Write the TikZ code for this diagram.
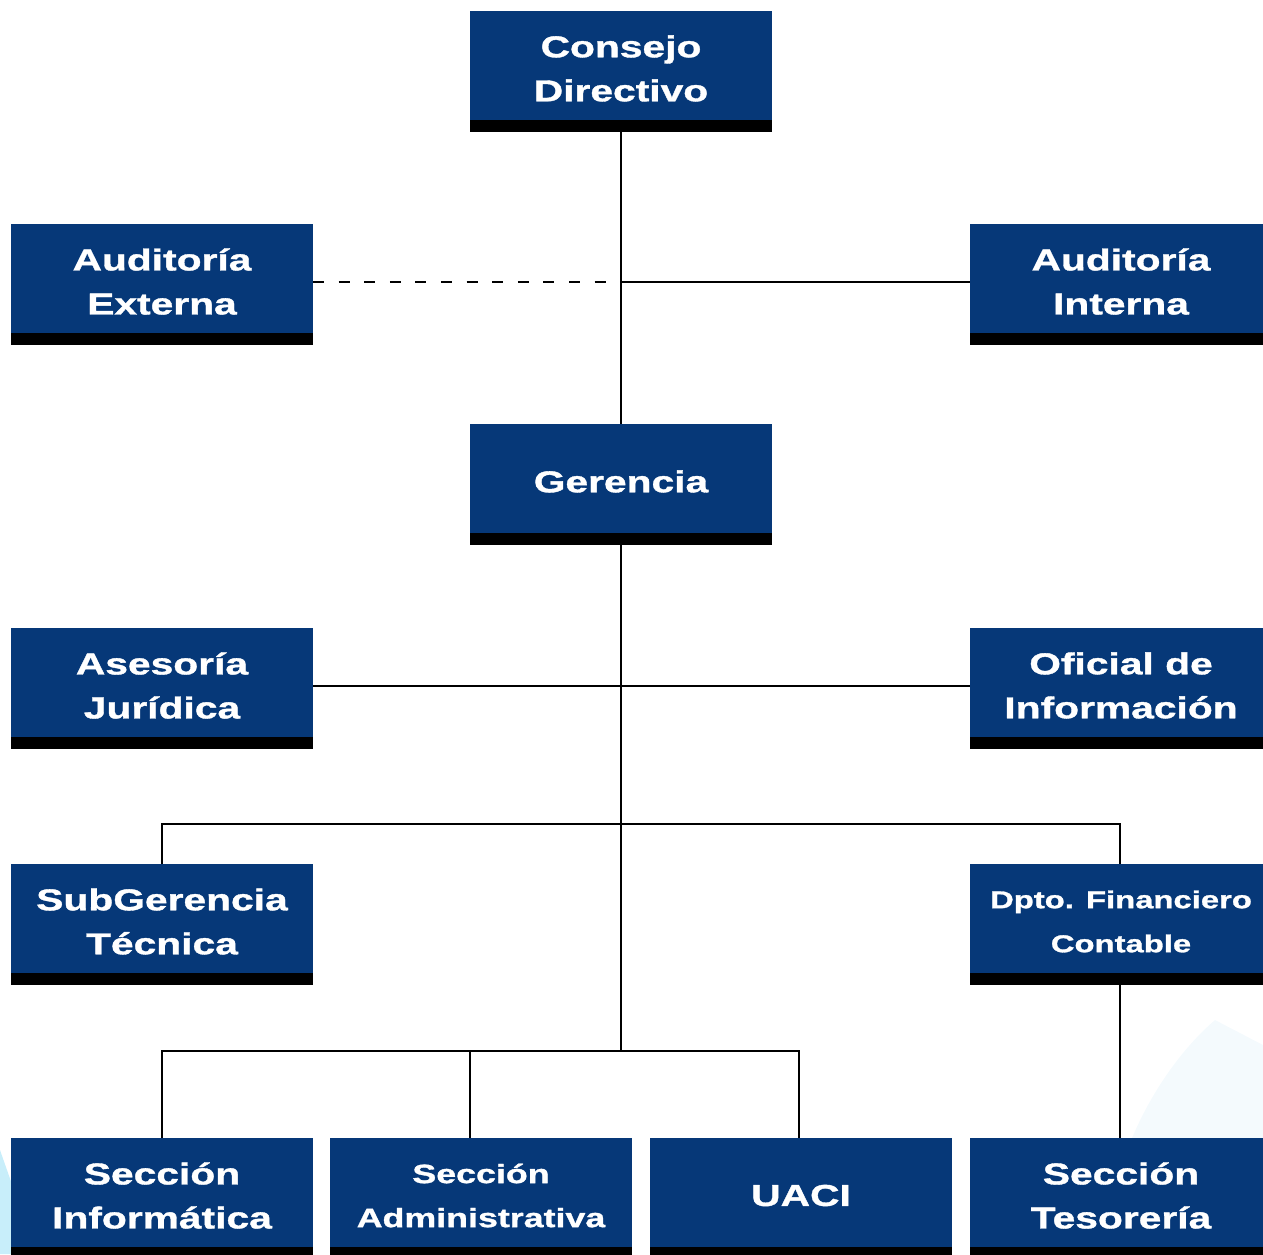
\documentclass[tikz,border=0pt]{standalone}
\usepackage{fontspec}
\newfontfamily\boxfont{Liberation Sans}[FakeStretch=1.35,FakeBold=1.2]
\definecolor{orgblue}{RGB}{6,56,120}
\definecolor{swoosh}{RGB}{200,238,250}
\definecolor{swooshb}{RGB}{244,250,253}
\begin{document}
\begin{tikzpicture}[x=1pt,y=-1pt,
  orgbox/.style={fill=orgblue, inner sep=0pt, outer sep=0pt, minimum width=302pt, minimum height=109pt},
  boxtext/.style={text=white, align=center, inner sep=0pt, yshift=-3pt,
    font=\boxfont\bfseries\fontsize{30.2}{44}\selectfont},
  smallt/.style={font=\boxfont\bfseries\fontsize{26.5}{44}\selectfont},
  tinyt/.style={font=\boxfont\bfseries\fontsize{24.3}{44}\selectfont},
  barbox/.style={fill=black, inner sep=0pt, outer sep=0pt, minimum width=302pt, minimum height=12pt},
  conn/.style={line width=2.2pt, draw=black},
  dconn/.style={conn, line width=2.4pt, dash pattern=on 11pt off 14.6pt}]
\useasboundingbox (0,0) rectangle (1263,1254);
% faint background swooshes
\fill[swoosh] (0,1150) -- (14,1190) -- (14,1254) -- (0,1254) -- cycle;
\fill[swooshb] (1215,1020) .. controls (1180,1050) and (1150,1095) .. (1132,1138) -- (1263,1138) -- (1263,1045) -- cycle;
% boxes
\node[orgbox, label={[boxtext]center:{Consejo\\Directivo}}] (cd) at (621,65.5) {};
\node[barbox, anchor=north] (cdb) at (cd.south) {};
\node[orgbox, label={[boxtext]center:{Auditoría\\Externa}}] (ae) at (162,278.5) {};
\node[barbox, anchor=north] (aeb) at (ae.south) {};
\node[orgbox, label={[boxtext]center:{Auditoría\\Interna}}] (ai) at (1121,278.5) {};
\node[barbox, anchor=north] (aib) at (ai.south) {};
\node[orgbox, label={[boxtext]center:{Gerencia}}] (ge) at (621,478.5) {};
\node[barbox, anchor=north] (geb) at (ge.south) {};
\node[orgbox, label={[boxtext]center:{Asesoría\\Jurídica}}] (aj) at (162,682.5) {};
\node[barbox, anchor=north] (ajb) at (aj.south) {};
\node[orgbox, label={[boxtext]center:{Oficial de\\Información}}] (oi) at (1121,682.5) {};
\node[barbox, anchor=north] (oib) at (oi.south) {};
\node[orgbox, label={[boxtext]center:{SubGerencia\\Técnica}}] (sg) at (162,918.5) {};
\node[barbox, anchor=north] (sgb) at (sg.south) {};
\node[orgbox, label={[boxtext,tinyt]center:{Dpto. Financiero\\Contable}}] (df) at (1121,918.5) {};
\node[barbox, anchor=north] (dfb) at (df.south) {};
\node[orgbox, label={[boxtext]center:{Sección\\Informática}}] (si) at (162,1192.5) {};
\node[barbox, anchor=north] (sib) at (si.south) {};
\node[orgbox, label={[boxtext,smallt]center:{Sección\\Administrativa}}] (sa) at (481,1192.5) {};
\node[barbox, anchor=north] (sab) at (sa.south) {};
\node[orgbox, label={[boxtext]center:{UACI}}] (ua) at (801,1192.5) {};
\node[barbox, anchor=north] (uab) at (ua.south) {};
\node[orgbox, label={[boxtext]center:{Sección\\Tesorería}}] (st) at (1121,1192.5) {};
\node[barbox, anchor=north] (stb) at (st.south) {};
% junction coordinates
\coordinate (j1) at (621,282);
\coordinate (j2) at (621,686);
\coordinate (j3) at (621,824);
\coordinate (j4) at (621,1051);
% connectors
\draw[conn] (cdb.south) -- (ge.north);
\draw[dconn] (ae.east |- j1) -- (j1);
\draw[conn] (j1) -- (ai.west |- j1);
\draw[conn] (geb.south) -- (j4);
\draw[conn] (aj.east |- j2) -- (oi.west |- j2);
\draw[conn] (sg.north) -- (sg.north |- j3) -- (1120,824) -- (1120,864);
\draw[conn] (si.north) -- (si.north |- j4) -- (799,1051) -- (799,1138);
\draw[conn] (470,1051) -- (470,1138);
\draw[conn] (1120,985) -- (1120,1138);
\end{tikzpicture}
\end{document}
